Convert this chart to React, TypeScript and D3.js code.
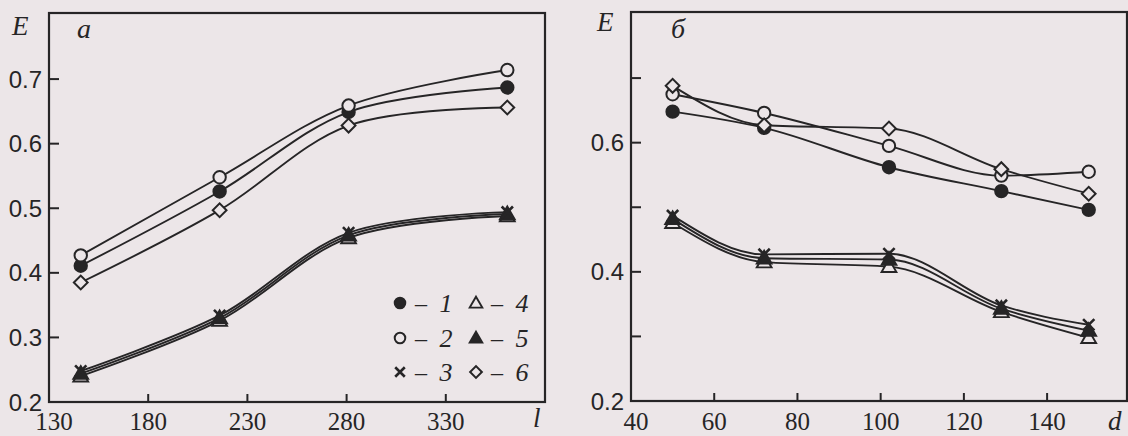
import React, { useEffect, useRef } from "react";
import * as d3 from "d3";

// panel a: E vs l
const lValues = [146, 216, 281, 361];
const aSeries1 = [0.411, 0.526, 0.649, 0.687];
const aSeries2 = [0.427, 0.548, 0.659, 0.714];
const aSeries3 = [0.248, 0.334, 0.462, 0.494];
const aSeries4 = [0.24, 0.326, 0.454, 0.488];
const aSeries5 = [0.244, 0.33, 0.458, 0.491];
const aSeries6 = [0.385, 0.497, 0.628, 0.656];

// panel б: E vs d
const dValues = [50, 72, 102, 129, 150];
const bSeries1 = [0.648, 0.623, 0.562, 0.525, 0.496];
const bSeries2 = [0.675, 0.646, 0.595, 0.549, 0.555];
const bSeries3 = [0.487, 0.427, 0.428, 0.348, 0.318];
const bSeries4 = [0.476, 0.415, 0.408, 0.338, 0.298];
const bSeries5 = [0.482, 0.421, 0.419, 0.343, 0.309];
const bSeries6 = [0.688, 0.627, 0.622, 0.559, 0.521];

const aXTicks = [130, 180, 230, 280, 330];
const bXTicks = [40, 60, 80, 100, 120, 140];
const aYLabels = [0.2, 0.3, 0.4, 0.5, 0.6, 0.7];
const bYLabels = [0.2, 0.4, 0.6];
const yTicks = [0.3, 0.4, 0.5, 0.6, 0.7];

const legendItems = [
  { key: "1", marker: "filled" },
  { key: "2", marker: "open" },
  { key: "3", marker: "cross" },
  { key: "4", marker: "tri" },
  { key: "5", marker: "trifill" },
  { key: "6", marker: "diamond" },
];

const INK = "#262526";
const BG = "#ece6e8";
const width = 1128;
const height = 436;

function drawMarker(g, type, x, y, scale = 1) {
  if (type === "filled" || type === "open") {
    g.append("circle")
      .attr("cx", x)
      .attr("cy", y)
      .attr("r", 6.2 * scale)
      .attr("fill", type === "filled" ? INK : BG)
      .attr("stroke", INK)
      .attr("stroke-width", 2);
  } else if (type === "cross") {
    g.append("path")
      .attr("transform", `translate(${x},${y})`)
      .attr("d", d3.symbol(d3.symbolTimes, 85 * scale * scale)())
      .attr("fill", "none")
      .attr("stroke", INK)
      .attr("stroke-width", 2.6);
  } else if (type === "tri" || type === "trifill") {
    g.append("path")
      .attr("transform", `translate(${x},${y + 1})`)
      .attr("d", d3.symbol(d3.symbolTriangle, 95 * scale * scale)())
      .attr("fill", type === "trifill" ? INK : BG)
      .attr("stroke", INK)
      .attr("stroke-width", 1.9);
  } else if (type === "diamond") {
    g.append("path")
      .attr("transform", `translate(${x},${y}) rotate(45)`)
      .attr("d", d3.symbol(d3.symbolSquare, 95 * scale * scale)())
      .attr("fill", BG)
      .attr("stroke", INK)
      .attr("stroke-width", 2);
  }
}

function drawPanel(svg, cfg) {
  const x = d3.scaleLinear().domain(cfg.xDomain).range(cfg.xRange);
  const y = d3.scaleLinear().domain([0.2, 0.8]).range(cfg.yRange);
  const g = svg.append("g");

  // frame
  g.append("rect")
    .attr("x", cfg.xRange[0])
    .attr("y", cfg.top)
    .attr("width", cfg.xRange[1] - cfg.xRange[0])
    .attr("height", cfg.yRange[0] - cfg.top)
    .attr("fill", "none")
    .attr("stroke", INK)
    .attr("stroke-width", 2.2);

  // inward ticks
  g.selectAll(".yt")
    .data(yTicks)
    .join("line")
    .attr("x1", cfg.xRange[0])
    .attr("x2", cfg.xRange[0] + 10)
    .attr("y1", (d) => y(d))
    .attr("y2", (d) => y(d))
    .attr("stroke", INK)
    .attr("stroke-width", 2);
  g.selectAll(".xt")
    .data(cfg.xTicks.slice(1))
    .join("line")
    .attr("x1", (d) => x(d))
    .attr("x2", (d) => x(d))
    .attr("y1", cfg.yRange[0])
    .attr("y2", cfg.yRange[0] - 8)
    .attr("stroke", INK)
    .attr("stroke-width", 2);

  g.selectAll(".yl")
    .data(cfg.yLabels)
    .join("text")
    .attr("x", cfg.xRange[0] - 7)
    .attr("y", (d) => y(d))
    .attr("dy", "0.36em")
    .attr("text-anchor", "end")
    .attr("font-family", "Liberation Sans, Arial, sans-serif")
    .attr("font-size", 24)
    .attr("fill", INK)
    .text((d) => d.toFixed(1));

  g.selectAll(".xl")
    .data(cfg.xTicks)
    .join("text")
    .attr("x", (d, i) => x(d) + (i === 0 ? 5 : 0))
    .attr("y", 430)
    .attr("text-anchor", "middle")
    .attr("font-family", "Liberation Serif, serif")
    .attr("font-size", 25)
    .attr("fill", INK)
    .text((d) => d);

  // axis titles and panel letter
  g.append("text")
    .attr("x", cfg.eX)
    .attr("y", cfg.eY)
    .attr("font-family", "Liberation Serif, serif")
    .attr("font-style", "italic")
    .attr("font-size", 27)
    .attr("fill", INK)
    .text("E");
  g.append("text")
    .attr("x", cfg.letterX)
    .attr("y", 38)
    .attr("font-family", "Liberation Serif, serif")
    .attr("font-style", "italic")
    .attr("font-size", 28)
    .attr("fill", INK)
    .text(cfg.letter);
  g.append("text")
    .attr("x", cfg.xTitleX)
    .attr("y", cfg.xTitleY)
    .attr("font-family", "Liberation Serif, serif")
    .attr("font-style", "italic")
    .attr("font-size", 27)
    .attr("fill", INK)
    .text(cfg.xTitle);

  const line = d3
    .line()
    .x((d) => x(d[0]))
    .y((d) => y(d[1]))
    .curve(cfg.curve);

  cfg.series.forEach((s) => {
    const pts = cfg.xs.map((v, i) => [v, s.values[i]]);
    g.append("path")
      .attr("d", line(pts))
      .attr("fill", "none")
      .attr("stroke", INK)
      .attr("stroke-width", 1.9);
  });
  cfg.series.forEach((s) => {
    cfg.xs.forEach((v, i) => drawMarker(g, s.marker, x(v), y(s.values[i])));
  });
}

export default function App() {
  const svgRef = useRef(null);

  useEffect(() => {
    const svg = d3.select(svgRef.current);
    svg.selectAll("*").remove();
    svg.append("rect").attr("width", width).attr("height", height).attr("fill", BG);

    drawPanel(svg, {
      xDomain: [130, 380],
      xRange: [49, 545],
      yRange: [402, 14.5],
      top: 13,
      xTicks: aXTicks,
      yLabels: aYLabels,
      xs: lValues,
      curve: d3.curveCatmullRom.alpha(0.5),
      letter: "а",
      letterX: 77,
      eX: 12,
      eY: 35,
      xTitle: "l",
      xTitleX: 533,
      xTitleY: 427,
      series: [
        { values: aSeries4, marker: "tri" },
        { values: aSeries5, marker: "trifill" },
        { values: aSeries3, marker: "cross" },
        { values: aSeries6, marker: "diamond" },
        { values: aSeries1, marker: "filled" },
        { values: aSeries2, marker: "open" },
      ],
    });

    drawPanel(svg, {
      xDomain: [40, 159.2],
      xRange: [631, 1127],
      yRange: [401, 13.5],
      top: 12,
      xTicks: bXTicks,
      yLabels: bYLabels,
      xs: dValues,
      curve: d3.curveMonotoneX,
      letter: "б",
      letterX: 671,
      eX: 597,
      eY: 31,
      xTitle: "d",
      xTitleX: 1108,
      xTitleY: 430,
      series: [
        { values: bSeries4, marker: "tri" },
        { values: bSeries5, marker: "trifill" },
        { values: bSeries3, marker: "cross" },
        { values: bSeries1, marker: "filled" },
        { values: bSeries2, marker: "open" },
        { values: bSeries6, marker: "diamond" },
      ],
    });

    // legend in panel a
    const legend = svg.append("g");
    const rowsY = [303, 338, 372];
    legendItems.forEach((item, i) => {
      const col = Math.floor(i / 3);
      const row = i % 3;
      const mx = col === 0 ? 400 : 476;
      drawMarker(legend, item.marker, mx, rowsY[row], 0.85);
      legend
        .append("text")
        .attr("x", mx + 21)
        .attr("y", rowsY[row])
        .attr("dy", "0.35em")
        .attr("text-anchor", "middle")
        .attr("font-family", "Liberation Serif, serif")
        .attr("font-size", 24)
        .attr("fill", INK)
        .text("–");
      legend
        .append("text")
        .attr("x", mx + 46)
        .attr("y", rowsY[row])
        .attr("dy", "0.35em")
        .attr("text-anchor", "middle")
        .attr("font-family", "Liberation Serif, serif")
        .attr("font-style", "italic")
        .attr("font-size", 26)
        .attr("fill", INK)
        .text(item.key);
    });
  }, []);

  return (
    <div style={{ position: "absolute", left: 0, top: 0 }}>
      <svg ref={svgRef} width={width} height={height} style={{ display: "block" }}></svg>
    </div>
  );
}
